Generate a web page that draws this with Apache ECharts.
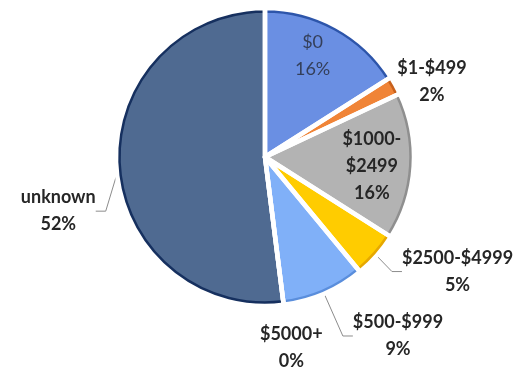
<!DOCTYPE html>
<html>
<head>
<meta charset="utf-8">
<script src="https://cdn.jsdelivr.net/npm/echarts@6/dist/echarts.min.js"></script>
<style>
  html, body { margin: 0; padding: 0; background: #ffffff; }
  #chart { width: 526px; height: 371px; }
</style>
</head>
<body>
<div id="chart"></div>
<script>
// Donation brackets and their share of donors (percent)
const categories = ['$0', '$1-$499', '$1000-$2499', '$2500-$4999', '$500-$999', '$5000+', 'unknown'];
const shares = [16, 2, 16, 5, 9, 0, 52];

// Slice fills and the darker outline around each slice
const fillColors = ['#6a8fe3', '#f08437', '#b3b3b3', '#ffcc00', '#80b0f8', '#a5a5a5', '#4f6a91'];
const rimColors  = ['#2d55aa', '#c8611c', '#8f8f8f', '#e6a800', '#5a8edc', '#7f7f7f', '#16305f'];

// Label placement: inside the slice, or outside next to the rim
const labelPlacement = ['inside', 'outside', 'inside', 'outside', 'outside', 'outside', 'outside'];
// Label shift from the library's anchor (slice centre for inside, rim point for outside)
const labelShift = [[11, -35], [39, -5], [31, 4], [83, 18], [75, 45], [8, 46], [-61, 45]];
const labelLineVisible = [false, false, false, true, true, false, true];
// Long bracket names that wrap after the dash
const wrapName = [false, false, true, false, false, false, false];

const CENTER = [265, 157];
const RADIUS = 146;
const GAP = 4.5;

const chart = echarts.init(document.getElementById('chart'), null, { renderer: 'canvas' });

const mainData = categories.map((name, i) => ({
  name: name,
  value: shares[i],
  itemStyle: { color: fillColors[i], borderColor: rimColors[i] },
  label: {
    position: labelPlacement[i],
    fontWeight: i === 0 ? 'normal' : 'bold',
    color: i === 0 ? '#343f5a' : '#262626'
  },
  labelLine: {
    show: true,
    lineStyle: { color: '#8c8c8c', width: 1, opacity: labelLineVisible[i] ? 1 : 0 }
  }
}));

// Transparent copy whose white edges open the gaps between slices
const gapData = categories.map((name, i) => ({ name: name, value: shares[i] }));

chart.setOption({
  animation: false,
  backgroundColor: '#ffffff',
  series: [
    {
      type: 'pie',
      center: CENTER,
      radius: [0, RADIUS],
      startAngle: 90,
      clockwise: true,
      avoidLabelOverlap: false,
      itemStyle: { borderWidth: 3.5 },
      label: {
        show: true,
        fontFamily: 'Lato',
        fontSize: 18,
        lineHeight: 27,
        formatter: p => {
          const name = wrapName[p.dataIndex] ? p.name.replace('-', '-\n') : p.name;
          return name + '\n' + p.value + '%';
        }
      },
      labelLine: { length: 10, length2: 10, minTurnAngle: 90 },
      labelLayout: function (p) {
        const i = p.dataIndex;
        const s = labelShift[i];
        let ax, ay;
        if (labelPlacement[i] === 'outside' && p.labelLinePoints) {
          ax = p.labelLinePoints[0][0];
          ay = p.labelLinePoints[0][1];
        } else {
          ax = p.labelRect.x + p.labelRect.width / 2;
          ay = p.labelRect.y + p.labelRect.height / 2;
        }
        return { x: ax + s[0], y: ay + s[1], align: 'center', verticalAlign: 'middle' };
      },
      emphasis: { disabled: true },
      data: mainData
    },
    {
      type: 'pie',
      center: CENTER,
      radius: [0, RADIUS + 3],
      startAngle: 90,
      clockwise: true,
      silent: true,
      label: { show: false },
      labelLine: { show: false },
      itemStyle: { color: 'rgba(0,0,0,0)', borderColor: '#ffffff', borderWidth: GAP },
      emphasis: { disabled: true },
      data: gapData
    }
  ]
});
</script>
</body>
</html>
